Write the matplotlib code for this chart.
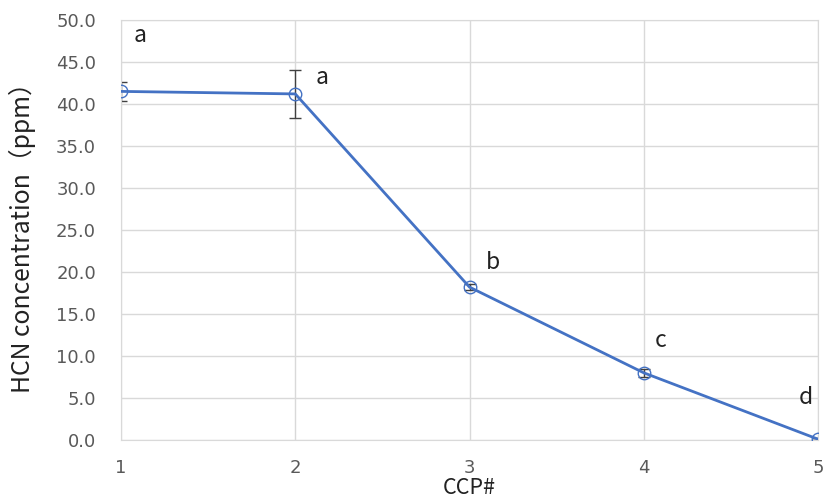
import matplotlib
matplotlib.use("Agg")
import matplotlib.pyplot as plt

plt.rcParams['font.family'] = ['DejaVu Sans', 'Noto Sans CJK JP']
jp = ['Noto Sans CJK JP', 'DejaVu Sans']

ccp = [1, 2, 3, 4, 5]
hcn = [41.5, 41.2, 18.2, 8.0, 0.1]
hcn_err = [1.1, 2.9, 0.4, 0.5, 0.1]
letters = ['a', 'a', 'b', 'c', 'd']
# label offsets in points from each point
offsets = [(14, 40), (19, 12), (17, 18), (12, 23), (-9, 30)]

fig = plt.figure(figsize=(8.25, 5), dpi=100)
ax = fig.add_axes([0.1467, 0.12, 0.8448, 0.84])

ax.errorbar(ccp, hcn, yerr=hcn_err, fmt='none', ecolor='#404040',
            elinewidth=1, capsize=4, capthick=1, zorder=2)
ax.plot(ccp, hcn, color='#4472C4', linewidth=2, marker='o', markersize=9,
        markerfacecolor='none', markeredgecolor='#4472C4', markeredgewidth=1,
        zorder=3)

for x, y, t, (dx, dy) in zip(ccp, hcn, letters, offsets):
    ax.annotate(t, (x, y), xytext=(dx, dy), textcoords='offset points',
                fontsize=16.5, family=jp, color='#222222', ha='center', va='center')

ax.set_xlim(1, 5)
ax.set_ylim(0, 50)
ax.set_xticks(ccp)
ax.set_yticks([i * 5 for i in range(11)])
ax.set_yticklabels(["{:.1f}".format(i * 5) for i in range(11)])
ax.grid(True, color='#D9D9D9', linewidth=1)
ax.set_axisbelow(True)
for s in ax.spines.values():
    s.set_color('#D9D9D9')
ax.tick_params(length=0, labelsize=13, colors='#595959')
ax.tick_params(axis='y', pad=18)
ax.tick_params(axis='x', pad=14)

ax.set_xlabel('CCP#', fontsize=15.5, family=jp, color='#222222', va='bottom')
ax.xaxis.set_label_coords(0.5, -0.1405)
ax.set_ylabel('HCN concentration\uff08ppm\uff09', fontsize=17.8, family=jp,
              color='#222222', va='center')
ax.yaxis.set_label_coords(-0.142, 0.496)

fig.savefig('out.png', dpi=100)
